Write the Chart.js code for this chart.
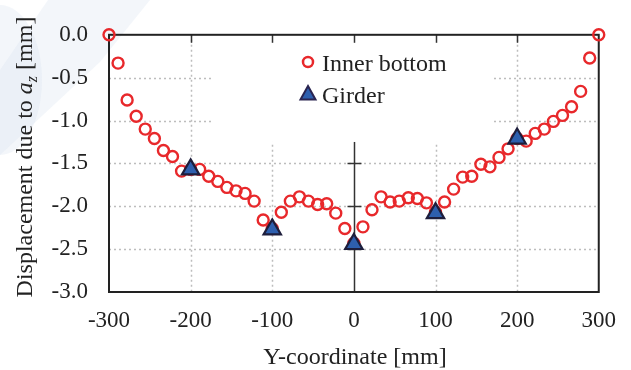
<!DOCTYPE html>
<html>
<head>
<meta charset="utf-8">
<script src="https://cdn.jsdelivr.net/npm/chart.js@4"></script>
<style>
  html, body { margin: 0; padding: 0; background: #fff; }
  #wrap { width: 631px; height: 370px; }
</style>
</head>
<body>
<div id="wrap"><canvas id="dispChart"></canvas></div>
<script>
// measured values
const innerX = [-300, -288.9, -277.8, -266.7, -255.6, -244.4, -233.3, -222.2, -211.1, -200,
  -188.9, -177.8, -166.7, -155.6, -144.4, -133.3, -122.2, -111.1, -100, -88.9,
  -77.8, -66.7, -55.6, -44.4, -33.3, -22.2, -11.1, 0, 11.1, 22.2,
  33.3, 44.4, 55.6, 66.7, 77.8, 88.9, 100, 111.1, 122.2, 133.3,
  144.4, 155.6, 166.7, 177.8, 188.9, 200, 211.1, 222.2, 233.3, 244.4,
  255.6, 266.7, 277.8, 288.9, 300];
const innerY = [0.0, -0.33, -0.76, -0.95, -1.10, -1.21, -1.35, -1.42, -1.59, -1.57,
  -1.57, -1.65, -1.71, -1.78, -1.82, -1.85, -1.94, -2.16, -2.26, -2.07,
  -1.94, -1.89, -1.94, -1.98, -1.97, -2.08, -2.26, -2.43, -2.24, -2.04,
  -1.89, -1.95, -1.94, -1.90, -1.91, -1.96, -2.07, -1.95, -1.80, -1.66,
  -1.65, -1.51, -1.54, -1.43, -1.33, -1.21, -1.24, -1.15, -1.10, -1.01,
  -0.94, -0.84, -0.66, -0.27, 0.0];
const girderX = [-200, -100, 0, 100, 200];
const girderY = [-1.57, -2.27, -2.44, -2.08, -1.21];

const xTicks = [-300, -200, -100, 0, 100, 200, 300];
const yTicks = [0, -0.5, -1.0, -1.5, -2.0, -2.5, -3.0];
const yTickLabels = ['0.0', '-0.5', '-1.0', '-1.5', '-2.0', '-2.5', '-3.0'];

const serif = '"Liberation Serif", "DejaVu Serif", serif';
const ink = '#222';

function pts(xs, ys) {
    return xs.map((x, i) => ({ x: x, y: ys[i] }));
}

// grid, frame, center axis, legend and titles
const framePlugin = {
    id: 'frame',
    beforeDraw(chart) {
        const c = chart.ctx;
        // faint watermark in the corner
        c.save();
        c.fillStyle = 'rgba(214, 224, 240, 0.3)';
        c.beginPath();
        c.moveTo(48, 0); c.lineTo(150, 0); c.lineTo(100, 62); c.lineTo(0, 155); c.lineTo(0, 70);
        c.closePath();
        c.fill();
        c.beginPath();
        c.ellipse(0, 80, 42, 75, 0, 0, Math.PI * 2);
        c.fill();
        c.restore();
    },
    beforeDatasetsDraw(chart) {
        const c = chart.ctx;
        const xs = chart.scales.x, ys = chart.scales.y;
        const a = chart.chartArea;
        c.save();
        // dotted grid
        c.strokeStyle = '#bdbdbd';
        c.lineWidth = 1.5;
        c.setLineDash([2, 3]);
        xTicks.slice(1, -1).filter(v => v !== 0).forEach(v => {
            const px = Math.round(xs.getPixelForValue(v)) + 0.5;
            c.beginPath(); c.moveTo(px, a.top); c.lineTo(px, a.bottom); c.stroke();
        });
        yTicks.slice(1, -1).forEach(v => {
            const py = Math.round(ys.getPixelForValue(v)) + 0.5;
            c.beginPath(); c.moveTo(a.left, py); c.lineTo(a.right, py); c.stroke();
        });
        c.setLineDash([]);
        // legend box hides the grid
        const bx0 = xs.getPixelForValue(-173), bx1 = xs.getPixelForValue(171);
        const by1 = ys.getPixelForValue(-1.25);
        c.fillStyle = '#fff';
        c.fillRect(bx0, a.top, bx1 - bx0, by1 - a.top);
        // center axis
        c.strokeStyle = '#333';
        c.lineWidth = 1.5;
        const cx = Math.round(xs.getPixelForValue(0)) + 0.5;
        c.beginPath(); c.moveTo(cx, by1); c.lineTo(cx, a.bottom); c.stroke();
        [-1.5, -2.0, -2.5].forEach(v => {
            const py = Math.round(ys.getPixelForValue(v)) + 0.5;
            c.beginPath(); c.moveTo(cx - 7, py); c.lineTo(cx + 7, py); c.stroke();
        });
        // top ticks
        xTicks.slice(1, -1).forEach(v => {
            const px = Math.round(xs.getPixelForValue(v)) + 0.5;
            c.beginPath(); c.moveTo(px, a.top); c.lineTo(px, a.top + 8); c.stroke();
        });
        // frame
        c.strokeStyle = '#222';
        c.lineWidth = 2;
        c.strokeRect(a.left, a.top, a.right - a.left, a.bottom - a.top);
        c.restore();
    },
    afterDraw(chart) {
        const c = chart.ctx;
        c.save();
        c.fillStyle = ink;
        // legend
        c.font = '24px ' + serif;
        c.textBaseline = 'alphabetic';
        c.textAlign = 'left';
        c.beginPath();
        c.arc(308, 62, 5, 0, Math.PI * 2);
        c.strokeStyle = '#e8282b'; c.lineWidth = 2.5; c.stroke();
        c.fillText('Inner bottom', 322, 71);
        c.beginPath();
        c.moveTo(308, 86); c.lineTo(315.5, 99.5); c.lineTo(300.5, 99.5); c.closePath();
        c.fillStyle = '#2e5fae'; c.fill();
        c.strokeStyle = '#2a2450'; c.lineWidth = 2; c.stroke();
        c.fillStyle = ink;
        c.fillText('Girder', 322, 103);
        // x title
        c.textAlign = 'center';
        c.fillText('Y-coordinate [mm]', 355, 364);
        // y title with italic a and subscript z
        c.translate(25, 157);
        c.rotate(-Math.PI / 2);
        c.textAlign = 'left';
        const parts = [
            { t: 'Displacement due to ', f: '24px ' + serif, dy: 0 },
            { t: 'a', f: 'italic 24px ' + serif, dy: 0 },
            { t: 'z', f: 'italic 16px ' + serif, dy: 5 },
            { t: ' [mm]', f: '24px ' + serif, dy: 0 }
        ];
        let total = 0;
        parts.forEach(p => { c.font = p.f; p.w = c.measureText(p.t).width; total += p.w; });
        let x0 = -total / 2;
        parts.forEach(p => {
            c.font = p.f;
            c.fillText(p.t, x0, 7 + p.dy);
            x0 += p.w;
        });
        c.restore();
    }
};

new Chart(document.getElementById('dispChart'), {
    type: 'scatter',
    data: {
        datasets: [
            {
                label: 'Inner bottom',
                data: pts(innerX, innerY),
                order: 1,
                pointStyle: 'circle',
                pointRadius: 5.5,
                pointBorderWidth: 2.4,
                borderColor: '#e8282b',
                backgroundColor: 'rgba(0,0,0,0)',
                clip: false
            },
            {
                label: 'Girder',
                data: pts(girderX, girderY),
                order: 0,
                pointStyle: 'triangle',
                pointRadius: 10,
                pointBorderWidth: 2.2,
                borderColor: '#1e1e3c',
                backgroundColor: '#2e5fae',
                clip: false
            }
        ]
    },
    options: {
        responsive: true,
        maintainAspectRatio: false,
        animation: false,
        layout: { padding: { left: 0, right: 30, top: 24, bottom: 0 } },
        plugins: {
            legend: { display: false },
            tooltip: { enabled: false }
        },
        scales: {
            x: {
                type: 'linear',
                min: -300,
                max: 300,
                afterFit: s => { s.height = 78; },
                afterBuildTicks: s => { s.ticks = xTicks.map(v => ({ value: v })); },
                grid: { display: false, drawTicks: false },
                border: { display: false },
                ticks: {
                    padding: 15,
                    color: ink,
                    font: { family: serif, size: 23 },
                    callback: v => String(v)
                }
            },
            y: {
                type: 'linear',
                min: -3,
                max: 0,
                afterFit: s => { s.width = 109; },
                afterBuildTicks: s => { s.ticks = yTicks.map(v => ({ value: v })); },
                grid: { display: false, drawTicks: false },
                border: { display: false },
                ticks: {
                    padding: 21,
                    color: ink,
                    font: { family: serif, size: 23 },
                    callback: v => yTickLabels[yTicks.indexOf(v)]
                }
            }
        }
    },
    plugins: [framePlugin]
});
</script>
</body>
</html>
